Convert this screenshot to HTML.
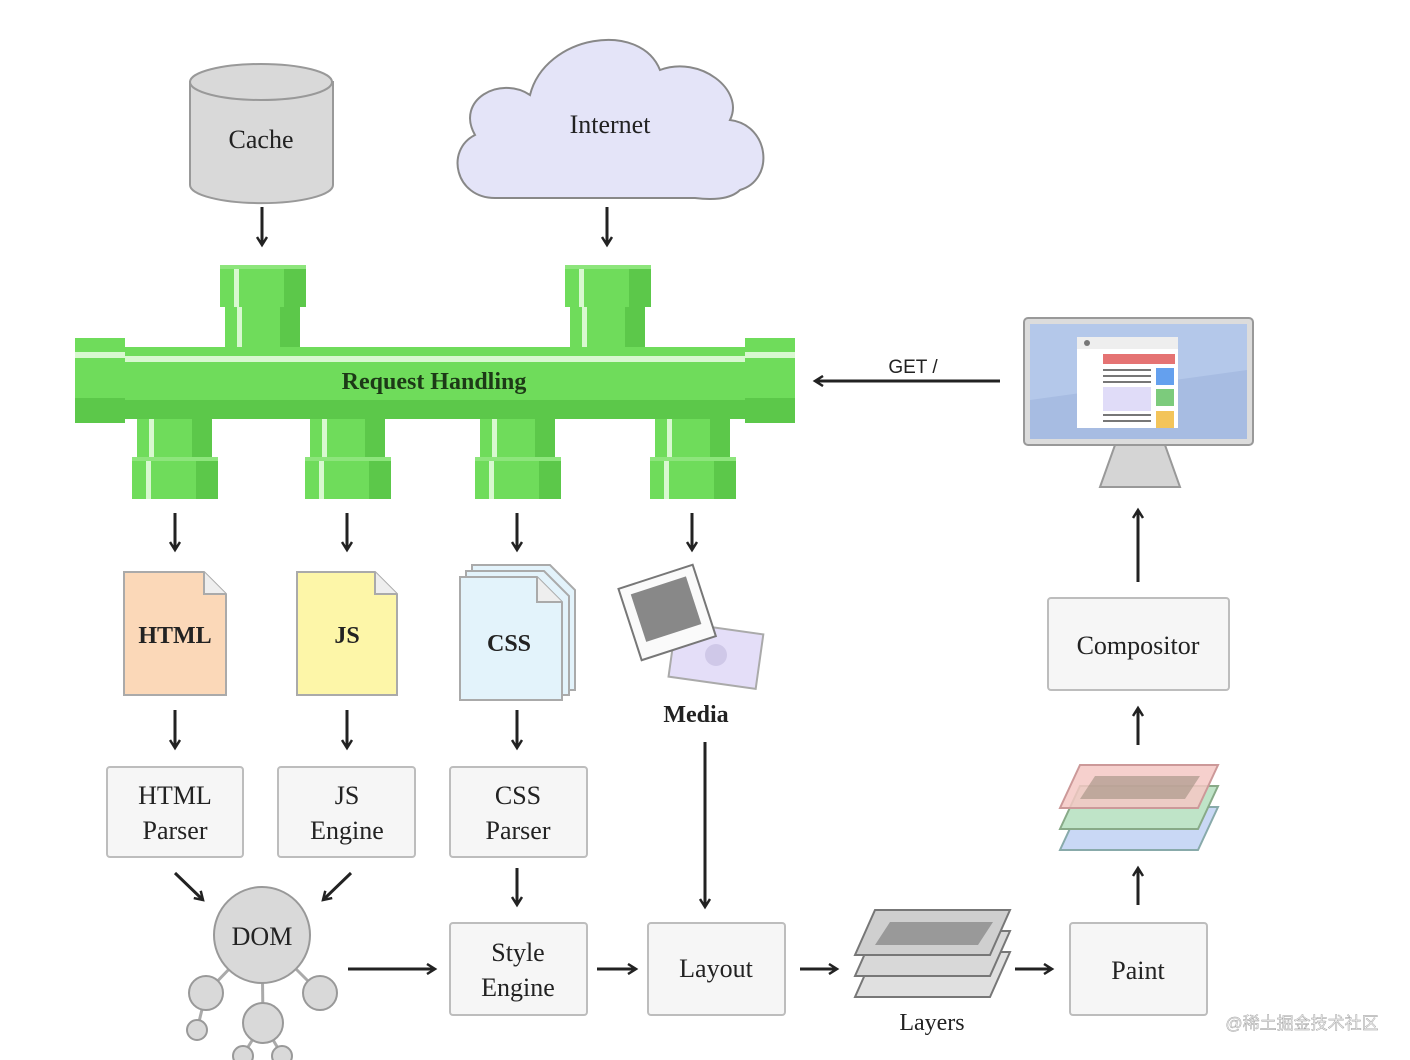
<!DOCTYPE html>
<html><head><meta charset="utf-8"><style>
html,body{margin:0;padding:0;background:#fff;}
svg{display:block;}
text{font-family:"Liberation Serif","DejaVu Serif",serif;fill:#222;text-anchor:middle;}
.l{font-size:26px;font-weight:normal;}
.b{font-weight:bold;}
.box{fill:#f6f6f6;stroke:#bdbdbd;stroke-width:2;}
.ar{stroke:#222;stroke-width:3;fill:none;}
.g1{fill:#6fdc5b;}.g2{fill:#5cc84a;}.gw{fill:#d8f8d0;}
.cg{fill:#d9d9d9;stroke:#999;stroke-width:2;}
</style></head><body>
<svg width="1410" height="1060" viewBox="0 0 1410 1060" xmlns="http://www.w3.org/2000/svg">
<defs>
<marker id="a" markerWidth="12" markerHeight="12" refX="9" refY="6" orient="auto" markerUnits="userSpaceOnUse">
<path d="M1,1 L9,6 L1,11" fill="none" stroke="#222" stroke-width="2.5"/></marker>
<g id="pu">
<rect x="0" y="0" width="75" height="44" class="g1"/><rect x="55" y="0" width="20" height="44" class="g2"/><rect x="12" y="0" width="5" height="44" class="gw"/>
</g>
<g id="pc">
<rect x="0" y="0" width="86" height="42" class="g1"/><rect x="64" y="0" width="22" height="42" class="g2"/><rect x="14" y="0" width="5" height="42" class="gw"/><rect x="0" y="0" width="86" height="4" fill="#8de57c"/>
</g>
</defs>

<!-- Cache -->
<path d="M190,82 L190,185 A71,18 0 0 0 333,185 L333,82 Z" class="cg"/>
<ellipse cx="261" cy="82" rx="71" ry="18" class="cg" fill="#e2e2e2"/>
<text x="261" y="148" class="l">Cache</text>

<!-- Cloud -->
<path d="M495,198 C455,198 445,150 475,135 C455,100 500,75 530,95 C545,35 640,20 660,70 C700,55 745,90 730,120 C770,125 775,180 740,190 C730,200 710,200 695,198 Z" fill="#e4e4f8" stroke="#888" stroke-width="2"/>
<text x="610" y="133" class="l">Internet</text>

<line x1="262" y1="207" x2="262" y2="245" class="ar" marker-end="url(#a)"/>
<line x1="607" y1="207" x2="607" y2="245" class="ar" marker-end="url(#a)"/>

<!-- Pipe -->
<use href="#pu" x="225" y="307"/><use href="#pc" x="220" y="265"/>
<use href="#pu" x="570" y="307"/><use href="#pc" x="565" y="265"/>
<rect x="120" y="347" width="630" height="72" class="g1"/>
<rect x="120" y="400" width="630" height="19" class="g2"/>
<rect x="120" y="356" width="630" height="6" class="gw"/>
<rect x="75" y="338" width="50" height="85" class="g1"/><rect x="75" y="398" width="50" height="25" class="g2"/><rect x="75" y="352" width="50" height="6" class="gw"/>
<rect x="745" y="338" width="50" height="85" class="g1"/><rect x="745" y="398" width="50" height="25" class="g2"/><rect x="745" y="352" width="50" height="6" class="gw"/>
<text x="434" y="389" style="font-size:24px;font-weight:bold;fill:#1d3a17">Request Handling</text>
<use href="#pu" x="137" y="419"/><use href="#pc" x="132" y="457"/>
<use href="#pu" x="310" y="419"/><use href="#pc" x="305" y="457"/>
<use href="#pu" x="480" y="419"/><use href="#pc" x="475" y="457"/>
<use href="#pu" x="655" y="419"/><use href="#pc" x="650" y="457"/>

<g class="ar" marker-end="url(#a)">
<line x1="175" y1="513" x2="175" y2="550"/><line x1="347" y1="513" x2="347" y2="550"/>
<line x1="517" y1="513" x2="517" y2="550"/><line x1="692" y1="513" x2="692" y2="550"/>
<line x1="175" y1="710" x2="175" y2="748"/><line x1="347" y1="710" x2="347" y2="748"/>
<line x1="517" y1="710" x2="517" y2="748"/>
<line x1="175" y1="873" x2="203" y2="900"/><line x1="351" y1="873" x2="323" y2="900"/>
<line x1="517" y1="868" x2="517" y2="905"/>
<line x1="348" y1="969" x2="435" y2="969"/><line x1="597" y1="969" x2="636" y2="969"/>
<line x1="705" y1="742" x2="705" y2="907"/><line x1="800" y1="969" x2="837" y2="969"/>
<line x1="1015" y1="969" x2="1052" y2="969"/>
<line x1="1138" y1="905" x2="1138" y2="868"/><line x1="1138" y1="745" x2="1138" y2="708"/>
<line x1="1138" y1="582" x2="1138" y2="510"/>
<line x1="1000" y1="381" x2="815" y2="381"/>
</g>
<text x="913" y="373" style="font-size:19px;font-family:'Liberation Sans',sans-serif">GET /</text>

<!-- docs -->
<path d="M124,572 L204,572 L226,594 L226,695 L124,695 Z" fill="#fbd8b8" stroke="#aaa" stroke-width="2"/>
<path d="M204,572 L204,594 L226,594" fill="#eee" stroke="#aaa" stroke-width="2"/>
<text x="175" y="643" class="l b" style="font-size:24px">HTML</text>
<path d="M297,572 L375,572 L397,594 L397,695 L297,695 Z" fill="#fdf6a8" stroke="#aaa" stroke-width="2"/>
<path d="M375,572 L375,594 L397,594" fill="#eee" stroke="#aaa" stroke-width="2"/>
<text x="347" y="643" class="l b" style="font-size:24px">JS</text>
<path d="M472,565 L550,565 L575,590 L575,690 L472,690 Z" fill="#e3f3fb" stroke="#aaa" stroke-width="2"/>
<path d="M466,571 L544,571 L569,596 L569,695 L466,695 Z" fill="#e3f3fb" stroke="#aaa" stroke-width="2"/>
<path d="M460,577 L537,577 L562,602 L562,700 L460,700 Z" fill="#e3f3fb" stroke="#aaa" stroke-width="2"/>
<path d="M537,577 L537,602 L562,602" fill="#eee" stroke="#aaa" stroke-width="2"/>
<text x="509" y="651" class="l b" style="font-size:24px">CSS</text>

<!-- media -->
<rect x="672" y="628" width="88" height="55" fill="#e4def8" stroke="#aaa" stroke-width="2" transform="rotate(8 716 655)"/>
<circle cx="716" cy="655" r="11" fill="#cfc8e8"/>
<rect x="628" y="575" width="78" height="75" fill="#fafafa" stroke="#777" stroke-width="2" transform="rotate(-18 667 612)"/>
<rect x="638" y="584" width="58" height="50" fill="#888" transform="rotate(-18 667 612)"/>
<text x="696" y="722" class="l b" style="font-size:24px">Media</text>

<!-- boxes -->
<rect x="107" y="767" width="136" height="90" rx="3" class="box"/>
<text x="175" y="804" class="l">HTML</text><text x="175" y="839" class="l">Parser</text>
<rect x="278" y="767" width="137" height="90" rx="3" class="box"/>
<text x="347" y="804" class="l">JS</text><text x="347" y="839" class="l">Engine</text>
<rect x="450" y="767" width="137" height="90" rx="3" class="box"/>
<text x="518" y="804" class="l">CSS</text><text x="518" y="839" class="l">Parser</text>
<rect x="450" y="923" width="137" height="92" rx="3" class="box"/>
<text x="518" y="961" class="l">Style</text><text x="518" y="996" class="l">Engine</text>
<rect x="648" y="923" width="137" height="92" rx="3" class="box"/>
<text x="716" y="977" class="l">Layout</text>
<rect x="1070" y="923" width="137" height="92" rx="3" class="box"/>
<text x="1138" y="979" class="l">Paint</text>
<rect x="1048" y="598" width="181" height="92" rx="3" class="box"/>
<text x="1138" y="654" class="l">Compositor</text>

<!-- DOM -->
<g stroke="#aaa" stroke-width="3"><line x1="262" y1="935" x2="206" y2="993"/><line x1="262" y1="935" x2="320" y2="993"/><line x1="262" y1="935" x2="263" y2="1023"/><line x1="206" y1="993" x2="197" y2="1030"/><line x1="263" y1="1023" x2="243" y2="1055"/><line x1="263" y1="1023" x2="282" y2="1055"/></g>
<g fill="#d9d9d9" stroke="#999" stroke-width="2">
<circle cx="262" cy="935" r="48"/><circle cx="206" cy="993" r="17"/><circle cx="320" cy="993" r="17"/>
<circle cx="263" cy="1023" r="20"/><circle cx="197" cy="1030" r="10"/><circle cx="243" cy="1056" r="10"/><circle cx="282" cy="1056" r="10"/></g>
<text x="262" y="945" class="l">DOM</text>

<!-- Layers -->
<g stroke="#777" stroke-width="2">
<path d="M875,952 L1010,952 L990,997 L855,997 Z" fill="#e0e0e0"/>
<path d="M875,931 L1010,931 L990,976 L855,976 Z" fill="#d8d8d8"/>
<path d="M875,910 L1010,910 L990,955 L855,955 Z" fill="#cfcfcf"/>
<path d="M890,922 L993,922 L978,945 L875,945 Z" fill="#999" stroke="none"/>
</g>
<text x="932" y="1030" class="l" style="font-size:24px">Layers</text>
<g stroke-width="2">
<path d="M1080,807 L1218,807 L1198,850 L1060,850 Z" fill="#c9d8f5" stroke="#8aa"/>
<path d="M1080,786 L1218,786 L1198,829 L1060,829 Z" fill="#bfe4c8" stroke="#8a8"/>
<path d="M1080,765 L1218,765 L1198,808 L1060,808 Z" fill="#f4c8c4" stroke="#c99" fill-opacity="0.85"/>
<path d="M1095,776 L1200,776 L1185,799 L1080,799 Z" fill="#a09080" opacity="0.6"/>
</g>

<!-- Monitor -->
<path d="M1115,445 L1165,445 L1180,487 L1100,487 Z" fill="#d5d5d5" stroke="#999" stroke-width="2"/>
<rect x="1024" y="318" width="229" height="127" rx="4" fill="#dcdcdc" stroke="#999" stroke-width="2"/>
<rect x="1030" y="324" width="217" height="115" fill="#b4c8ea"/>
<path d="M1030,400 L1247,370 L1247,439 L1030,439 Z" fill="#a7bce2"/>
<rect x="1077" y="337" width="101" height="91" fill="#fff"/>
<rect x="1077" y="337" width="101" height="12" fill="#eee"/>
<circle cx="1087" cy="343" r="3" fill="#777"/>
<rect x="1103" y="354" width="72" height="10" fill="#e57373"/>
<g fill="#777"><rect x="1103" y="369" width="48" height="2"/><rect x="1103" y="375" width="48" height="2"/><rect x="1103" y="381" width="48" height="2"/><rect x="1103" y="414" width="48" height="2"/><rect x="1103" y="420" width="48" height="2"/></g>
<rect x="1103" y="387" width="48" height="24" fill="#e0dcf8"/>
<rect x="1156" y="368" width="18" height="17" fill="#64a0ee"/>
<rect x="1156" y="389" width="18" height="17" fill="#7ccb7c"/>
<rect x="1156" y="411" width="18" height="17" fill="#f3c45a"/>

<text x="1302" y="1029" style="font-size:17px;fill:#eee;font-family:'Liberation Sans','Noto Sans CJK SC',sans-serif;stroke:#999;stroke-width:0.4">@稀土掘金技术社区</text>
</svg>
</body></html>
